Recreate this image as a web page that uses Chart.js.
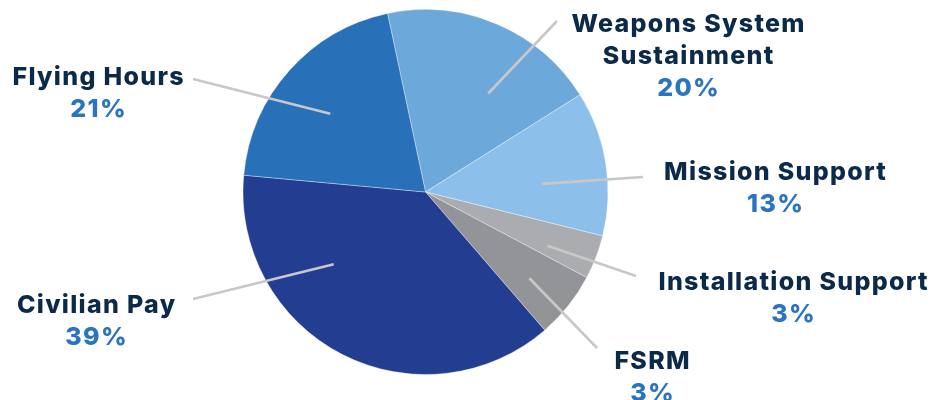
<!DOCTYPE html>
<html>
<head>
<meta charset="utf-8">
<script src="https://cdn.jsdelivr.net/npm/chart.js@4"></script>
<style>
  html, body { margin: 0; padding: 0; background: #fff; }
  #wrap { width: 932px; height: 400px; position: relative; }
</style>
</head>
<body>
<div id="wrap"><canvas id="budget-pie"></canvas></div>
<script>
// slices, clockwise from just left of the top
const categories = ['Weapons System Sustainment', 'Mission Support', 'Installation Support', 'FSRM', 'Civilian Pay', 'Flying Hours'];
const shares = [19.4, 12.8, 3.9, 5.9, 37.8, 20.2];
const percentLabels = ['20%', '13%', '3%', '3%', '39%', '21%'];
const labelLines = [['Weapons System', 'Sustainment'], ['Mission Support'], ['Installation Support'], ['FSRM'], ['Civilian Pay'], ['Flying Hours']];
const sliceColors = ['#6ca8da', '#8cc0ea', '#abacaf', '#939497', '#233d91', '#2870b8'];

// callout layout: inner end (angle deg from north, fraction of radius), outer end and text anchor (px)
const callouts = [
  { a: 32.5, f: 0.64, end: [557, 21], tx: 688, ty: 32 },
  { a: 86, f: 0.64, end: [643, 177], tx: 775, ty: 180 },
  { a: 113.8, f: 0.73, end: [636, 276], tx: 793, ty: 290 },
  { a: 129.7, f: 0.74, end: [597, 348], tx: 652, ty: 369 },
  { a: 231.8, f: 0.64, end: [193, 299], tx: 96, ty: 313 },
  { a: 309.4, f: 0.675, end: [193, 79], tx: 98, ty: 85 }
];

const SPACING = 1.3;

const calloutPlugin = {
  id: 'callouts',
  afterDatasetsDraw(chart) {
    const ctx = chart.ctx;
    const arcs = chart.getDatasetMeta(0).data;
    ctx.save();
    arcs.forEach((arc, i) => {
      const c = callouts[i];
      const ang = (c.a - 90) * Math.PI / 180;
      const r = arc.outerRadius * c.f;
      ctx.beginPath();
      ctx.moveTo(arc.x + Math.cos(ang) * r, arc.y + Math.sin(ang) * r);
      ctx.lineTo(c.end[0], c.end[1]);
      ctx.strokeStyle = '#c8c8ca';
      ctx.lineWidth = 2.6;
      ctx.stroke();

      ctx.textAlign = 'center';
      ctx.textBaseline = 'alphabetic';
      ctx.font = '800 25px Inter';
      ctx.letterSpacing = SPACING + 'px';
      // letter spacing adds a trailing gap, shift by half of it
      const x = c.tx + SPACING / 2;
      ctx.fillStyle = '#0b2a4a';
      const lines = labelLines[i];
      lines.forEach((t, k) => ctx.fillText(t, x, c.ty + k * 32));
      ctx.fillStyle = '#2a74c0';
      ctx.fillText(percentLabels[i], x, c.ty + lines.length * 32);
    });
    ctx.restore();
  }
};

new Chart(document.getElementById('budget-pie'), {
  type: 'pie',
  data: {
    labels: categories,
    datasets: [{
      data: shares,
      backgroundColor: sliceColors,
      borderColor: 'rgba(255,255,255,0.35)',
      borderWidth: 1
    }]
  },
  options: {
    responsive: true,
    maintainAspectRatio: false,
    animation: false,
    rotation: -12,
    layout: { padding: { top: 9, bottom: 25, left: 242, right: 323 } },
    plugins: {
      legend: { display: false },
      tooltip: { enabled: false }
    }
  },
  plugins: [calloutPlugin]
});
</script>
</body>
</html>
